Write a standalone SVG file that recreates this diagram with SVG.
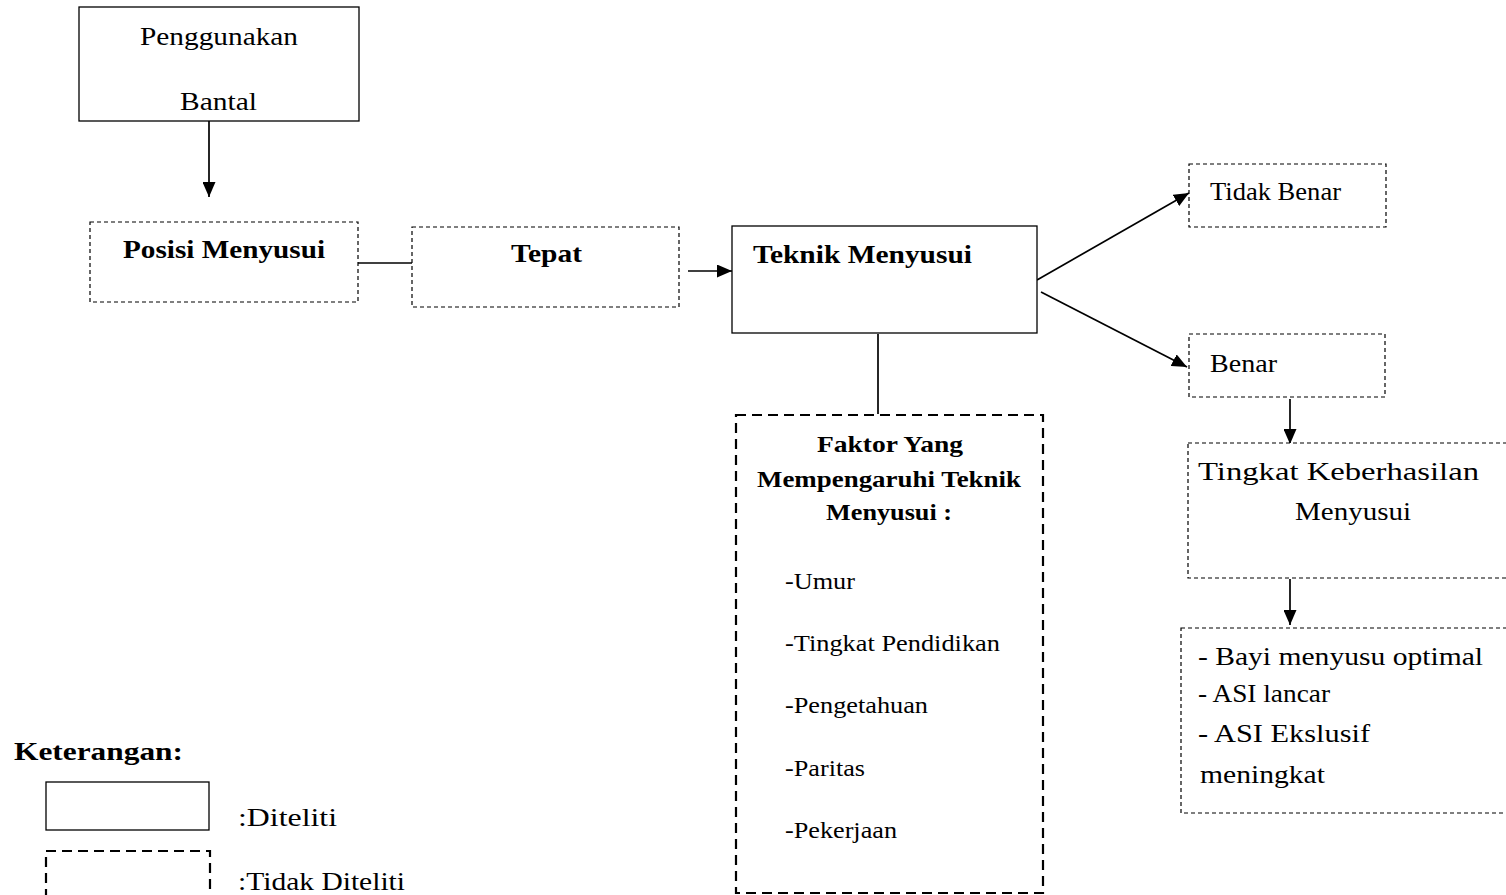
<svg xmlns="http://www.w3.org/2000/svg" width="1506" height="895" viewBox="0 0 1506 895" font-family="'Liberation Serif', 'Times New Roman', Times, serif">
<style>
text{font-family:'Liberation Serif','Times New Roman',Times,serif;fill:#000}
.t{font-size:26px}
.s{font-size:23px}
.b{font-weight:bold}
.solid{fill:#fff;stroke:#000;stroke-width:1.3}
.dash{fill:#fff;stroke:#000;stroke-width:1.2;stroke-dasharray:4 3}
.dashT{fill:#fff;stroke:#000;stroke-width:2.2;stroke-dasharray:10 6}
.ln{stroke:#000;stroke-width:1.7;fill:none}
</style>
<defs>
<marker id="ah" markerWidth="15" markerHeight="13" refX="15" refY="6.5" orient="auto" markerUnits="userSpaceOnUse" viewBox="0 0 15 13">
<path d="M0,0 L15,6.5 L0,13 z" fill="#000"/>
</marker>
</defs>
<rect width="1506" height="895" fill="#fff"/>
<g id="connectors">
<line class="ln" x1="209" y1="121" x2="209" y2="197" marker-end="url(#ah)"/>
<line class="ln" x1="358" y1="263" x2="412" y2="263"/>
<line class="ln" x1="688" y1="271" x2="732" y2="271" marker-end="url(#ah)"/>
<line class="ln" x1="1037" y1="280" x2="1189" y2="193" marker-end="url(#ah)"/>
<line class="ln" x1="1041" y1="292" x2="1187" y2="367" marker-end="url(#ah)"/>
<line class="ln" x1="878" y1="334" x2="878" y2="414"/>
<line class="ln" x1="1290" y1="399" x2="1290" y2="444" marker-end="url(#ah)"/>
<line class="ln" x1="1290" y1="579" x2="1290" y2="625" marker-end="url(#ah)"/>
</g>
<g id="penggunakan">
<rect class="solid" x="79" y="7" width="280" height="114"/>
<text class="t" x="140" y="45" textLength="158" lengthAdjust="spacingAndGlyphs">Penggunakan</text>
<text class="t" x="180" y="110" textLength="77" lengthAdjust="spacingAndGlyphs">Bantal</text>
</g>
<g id="posisi">
<rect class="dash" x="90" y="222" width="268" height="80"/>
<text class="t b" x="123" y="258" textLength="202" lengthAdjust="spacingAndGlyphs">Posisi Menyusui</text>
</g>
<g id="tepat">
<rect class="dash" x="412" y="227" width="267" height="80"/>
<text class="t b" x="511" y="262" textLength="71" lengthAdjust="spacingAndGlyphs">Tepat</text>
</g>
<g id="teknik">
<rect class="solid" x="732" y="226" width="305" height="107"/>
<text class="t b" x="753" y="263" textLength="219" lengthAdjust="spacingAndGlyphs">Teknik Menyusui</text>
</g>
<g id="tidakbenar">
<rect class="dash" x="1189" y="164" width="197" height="63"/>
<text class="t" x="1210" y="200" textLength="131" lengthAdjust="spacingAndGlyphs">Tidak Benar</text>
</g>
<g id="benar">
<rect class="dash" x="1189" y="334" width="196" height="63"/>
<text class="t" x="1210" y="372" textLength="67" lengthAdjust="spacingAndGlyphs">Benar</text>
</g>
<g id="faktor">
<rect class="dashT" x="736" y="415" width="307" height="478"/>
<text class="s b" x="817" y="452" textLength="146" lengthAdjust="spacingAndGlyphs">Faktor Yang</text>
<text class="s b" x="757" y="487" textLength="264" lengthAdjust="spacingAndGlyphs">Mempengaruhi Teknik</text>
<text class="s b" x="826" y="520" textLength="126" lengthAdjust="spacingAndGlyphs">Menyusui :</text>
<text class="s" x="785" y="589" textLength="70" lengthAdjust="spacingAndGlyphs">-Umur</text>
<text class="s" x="785" y="651" textLength="215" lengthAdjust="spacingAndGlyphs">-Tingkat Pendidikan</text>
<text class="s" x="785" y="713" textLength="143" lengthAdjust="spacingAndGlyphs">-Pengetahuan</text>
<text class="s" x="785" y="776" textLength="80" lengthAdjust="spacingAndGlyphs">-Paritas</text>
<text class="s" x="785" y="838" textLength="112" lengthAdjust="spacingAndGlyphs">-Pekerjaan</text>
</g>
<g id="tingkat">
<rect class="dash" x="1188" y="443" width="340" height="135"/>
<text class="t" x="1198" y="480" textLength="281" lengthAdjust="spacingAndGlyphs">Tingkat Keberhasilan</text>
<text class="t" x="1295" y="520" textLength="116" lengthAdjust="spacingAndGlyphs">Menyusui</text>
</g>
<g id="hasil">
<rect class="dash" x="1181" y="628" width="345" height="185"/>
<text class="t" x="1198" y="665" textLength="285" lengthAdjust="spacingAndGlyphs">- Bayi menyusu optimal</text>
<text class="t" x="1198" y="702" textLength="132" lengthAdjust="spacingAndGlyphs">- ASI lancar</text>
<text class="t" x="1198" y="742" textLength="172" lengthAdjust="spacingAndGlyphs">- ASI Ekslusif</text>
<text class="t" x="1200" y="783" textLength="125" lengthAdjust="spacingAndGlyphs">meningkat</text>
</g>
<g id="legend">
<text class="t b" x="14" y="760" textLength="169" lengthAdjust="spacingAndGlyphs">Keterangan:</text>
<rect class="solid" x="46" y="782" width="163" height="48"/>
<text class="t" x="238" y="826" textLength="99" lengthAdjust="spacingAndGlyphs">:Diteliti</text>
<rect class="dashT" x="46" y="851" width="164" height="60"/>
<text class="t" x="238" y="890" textLength="167" lengthAdjust="spacingAndGlyphs">:Tidak Diteliti</text>
</g>
</svg>
